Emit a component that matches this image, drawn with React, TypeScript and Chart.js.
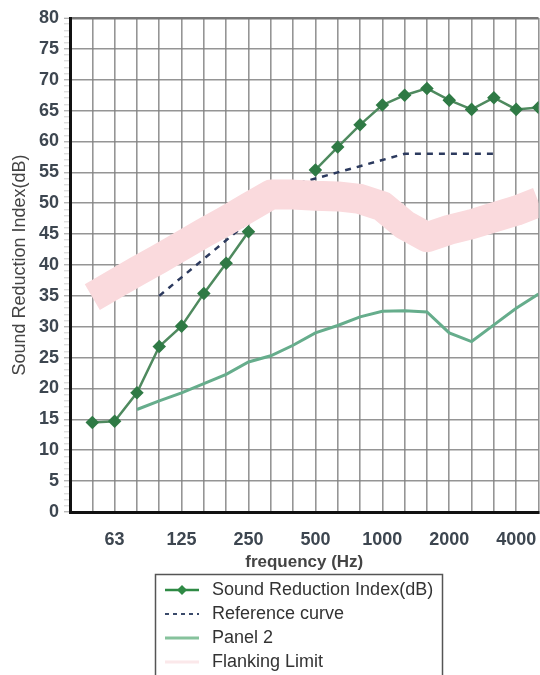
import React, { useEffect, useRef } from "react";
import { Chart, registerables } from "chart.js";

Chart.register(...registerables);

const FREQS = ["50","63","80","100","125","160","200","250","315","400","500","630","800","1000","1250","1600","2000","2500","3150","4000","5000"];
const TICK_LABELS = ["63","125","250","500","1000","2000","4000"];
const Y_TICK_STEP = 5;

const SRI = [14.5, 14.7, 19.3, 26.8, 30.1, 35.4, 40.3, 45.4, null, null, 55.4, 59.1, 62.7, 65.9, 67.5, 68.6, 66.7, 65.2, 67.1, 65.2, 65.5];
const REFERENCE = [null, null, null, 35, 38, 41, 44, 47, 50, 53, 54, 55, 56, 57, 58, 58, 58, 58, 58, null, null];
const PANEL2 = [null, null, 16.6, 18.0, 19.3, 20.8, 22.3, 24.3, 25.3, 27.0, 29.0, 30.2, 31.6, 32.5, 32.6, 32.4, 29.0, 27.6, 30.3, 33.0, 35.3];
const FLANKING = [34.8, 36.9, 39.0, 41.0, 43.1, 45.2, 47.2, 49.3, 51.4, 51.4, 51.2, 51.1, 50.7, 49.5, 46.5, 44.5, 45.7, 46.6, 47.7, 48.8, 50.2];

const LABELS = ["Sound Reduction Index(dB)", "Reference curve", "Panel 2", "Flanking Limit"];

const toXY = (arr: (number | null)[]) => arr.map((v, i) => ({ x: i, y: v }));

const FONT = "'Liberation Sans', Arial, Helvetica, sans-serif";
const GRID = "rgba(130,130,130,0.85)";

const legendPlugin = {
  id: "boxLegend",
  afterDraw(chart: any) {
    const ctx = chart.ctx as CanvasRenderingContext2D;
    ctx.save();
    const bx = 155.5, by = 574.5, bw = 287, bh = 130;
    ctx.strokeStyle = "#555";
    ctx.lineWidth = 1.5;
    ctx.strokeRect(bx, by, bw, bh);
    const rows = [590, 614, 638, 662];
    const x0 = 165, x1 = 199, tx = 212;
    ctx.font = `18px ${FONT}`;
    ctx.textBaseline = "middle";
    ctx.textAlign = "left";
    chart.data.datasets.forEach((ds: any, i: number) => {
      const y = rows[i];
      ctx.save();
      ctx.beginPath();
      ctx.moveTo(x0, y);
      ctx.lineTo(x1, y);
      if (i === 0) {
        ctx.strokeStyle = "#2f8a45"; ctx.lineWidth = 2.5; ctx.stroke();
        ctx.beginPath();
        const cx = (x0 + x1) / 2;
        ctx.moveTo(cx, y - 5); ctx.lineTo(cx + 5, y); ctx.lineTo(cx, y + 5); ctx.lineTo(cx - 5, y); ctx.closePath();
        ctx.fillStyle = "#2f8a45"; ctx.fill();
      } else if (i === 1) {
        ctx.setLineDash([4, 4]); ctx.strokeStyle = "#3a4a6a"; ctx.lineWidth = 2; ctx.stroke();
      } else if (i === 2) {
        ctx.strokeStyle = "#86c29c"; ctx.lineWidth = 3; ctx.stroke();
      } else {
        ctx.strokeStyle = "#fbe8ea"; ctx.lineWidth = 3; ctx.stroke();
      }
      ctx.restore();
      ctx.fillStyle = "#333";
      ctx.fillText(ds.label, tx, y);
    });
    ctx.restore();
  },
};

export default function App() {
  const ref = useRef<HTMLCanvasElement | null>(null);
  useEffect(() => {
    if (!ref.current) return;
    const chart = new Chart(ref.current, {
      type: "line",
      data: {
        datasets: [
          {
            label: LABELS[0],
            data: toXY(SRI),
            borderColor: "#4f8a5f",
            borderWidth: 2.5,
            pointStyle: "rectRot",
            pointRadius: 5,
            pointBackgroundColor: "#2f7a45",
            pointBorderColor: "#2f7a45",
            spanGaps: false,
            order: 1,
          },
          {
            label: LABELS[1],
            data: toXY(REFERENCE),
            borderColor: "#2c3a5e",
            borderWidth: 2.5,
            borderDash: [6, 6],
            pointRadius: 0,
            order: 2,
          },
          {
            label: LABELS[2],
            data: toXY(PANEL2),
            borderColor: "#66ad8c",
            borderWidth: 3,
            pointRadius: 0,
            order: 3,
          },
          {
            label: LABELS[3],
            data: toXY(FLANKING),
            borderColor: "#fadadd",
            borderWidth: 30,
            borderCapStyle: "butt",
            borderJoinStyle: "round",
            pointRadius: 0,
            order: 0,
          },
        ] as any,
      },
      options: {
        animation: false,
        responsive: false,
        maintainAspectRatio: false,
        layout: { padding: { top: 18, right: 0, left: 0, bottom: 102 } },
        plugins: { legend: { display: false }, tooltip: { enabled: false } },
        scales: {
          x: {
            type: "linear",
            min: -1,
            max: FREQS.length - 1,
            afterFit: (s: any) => { s.height = 61; },
            afterBuildTicks: (s: any) => {
              const t = [];
              for (let i = -1; i <= FREQS.length - 1; i++) t.push({ value: i });
              s.ticks = t;
            },
            ticks: {
              autoSkip: false,
              maxRotation: 0,
              padding: 2,
              color: "#3d4650",
              font: { family: FONT, size: 18, weight: "bold" },
              callback: (v: any) => {
                const f = FREQS[v as number];
                return f && TICK_LABELS.includes(f) ? f : "";
              },
            },
            grid: {
              drawTicks: true,
              tickLength: 15,
              tickColor: "transparent",
              color: (c: any) => (c.tick && c.tick.value === -1 ? "transparent" : GRID),
              lineWidth: 1.6,
            },
            border: { display: true, color: "#111", width: 3 },
            title: {
              display: true,
              text: "frequency (Hz)",
              color: "#444",
              font: { family: FONT, size: 17, weight: "bold" },
              padding: { top: 0, bottom: 0 },
            },
          },
          y: {
            min: 0,
            max: 80,
            afterFit: (s: any) => { s.width = 70; },
            ticks: {
              stepSize: 1,
              autoSkip: false,
              padding: 5,
              color: "#3d4650",
              font: { family: FONT, size: 18, weight: "bold" },
              callback: (v: any) => ((v as number) % Y_TICK_STEP === 0 ? String(v) : ""),
            },
            grid: {
              tickLength: 6,
              color: (c: any) => {
                const v = c.tick ? c.tick.value : 0;
                if (v % Y_TICK_STEP !== 0) return "transparent";
                return v === 80 ? "#777" : GRID;
              },
              lineWidth: (c: any) => (c.tick && c.tick.value === 80 ? 2.5 : 1.6),
              tickColor: (c: any) => ((c.tick ? c.tick.value : 0) % Y_TICK_STEP === 0 ? "#999" : "#cfcfcf"),
              tickWidth: 1,
            },
            border: { display: true, color: "#111", width: 3 },
            title: {
              display: true,
              text: "Sound Reduction Index(dB)",
              color: "#444",
              font: { family: FONT, size: 18, weight: "normal" },
              padding: { top: 9, bottom: 0 },
            },
          },
        },
      } as any,
      plugins: [legendPlugin],
    });
    return () => chart.destroy();
  }, []);
  return (
    <div style={{ position: "absolute", left: 0, top: 0, width: 540, height: 675, overflow: "hidden", background: "#fff" }}>
      <canvas ref={ref} width={546} height={675} style={{ width: 546, height: 675, display: "block" }} />
    </div>
  );
}
